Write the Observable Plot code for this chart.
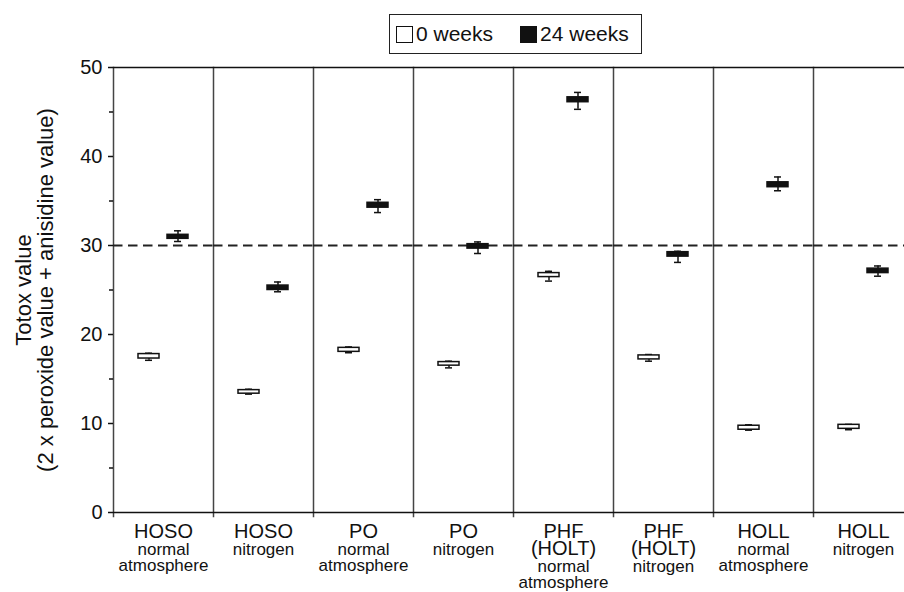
<!DOCTYPE html>
<html>
<head>
<meta charset="utf-8">
<script src="https://cdn.jsdelivr.net/npm/d3@7"></script>
<script src="https://cdn.jsdelivr.net/npm/@observablehq/plot@0.6"></script>
<style>
  body { margin: 0; background: white; font-family: "Liberation Sans", Arial, sans-serif; }
  #wrap { position: relative; width: 904px; height: 592px; overflow: hidden; }
  #head { position: relative; width: 904px; height: 50px; }
  #legend { position: absolute; left: 389px; top: 14px; width: 251px; height: 38px;
    border: 1.5px solid #222; display: flex; align-items: center; font-size: 21px; color: #111;
    background: white; z-index: 2; }
  .sw { display: inline-block; width: 15px; height: 15px; border: 1.5px solid #111; margin-right: 3px; }
  .item { display: flex; align-items: center; }
</style>
</head>
<body>
<div id="wrap">
  <div id="head"><div id="legend"></div></div>
  <div id="chart"></div>
</div>
<script>
// ---- data ----
const products = ["HOSO", "HOSO", "PO", "PO", "PHF\n(HOLT)", "PHF\n(HOLT)", "HOLL", "HOLL"];
const atmospheres = ["normal\natmosphere", "nitrogen", "normal\natmosphere", "nitrogen",
                     "normal\natmosphere", "nitrogen", "normal\natmosphere", "nitrogen"];
const weeks = ["0 weeks", "24 weeks"];

const week0Low  = [17.1, 13.3, 17.95, 16.25, 26.0, 17.0, 9.25, 9.3];
const week0Q1   = [17.3, 13.35, 18.05, 16.5, 26.45, 17.2, 9.3, 9.4];
const week0Q3   = [17.8, 13.75, 18.5, 16.9, 26.9, 17.65, 9.75, 9.85];
const week0High = [17.9, 13.85, 18.6, 17.0, 27.1, 17.75, 9.85, 9.9];

const week24Low  = [30.45, 24.8, 33.7, 29.1, 45.3, 28.1, 36.15, 26.55];
const week24Q1   = [30.75, 25.0, 34.25, 29.65, 46.1, 28.75, 36.55, 26.9];
const week24Q3   = [31.2, 25.5, 34.8, 30.15, 46.65, 29.25, 37.1, 27.4];
const week24High = [31.65, 25.9, 35.15, 30.4, 47.2, 29.35, 37.7, 27.7];

const yTicks = [0, 10, 20, 30, 40, 50];
const yMinorTicks = [5, 15, 25, 35, 45];
const limit = 30;
const yLabel = "Totox value\n(2 x peroxide value + anisidine value)";

// ---- build tables ----
const groups = products.map((p, i) => p + " | " + atmospheres[i]);
const rows = groups.flatMap((g, i) => [
  {group: g, week: weeks[0], lo: week0Low[i], q1: week0Q1[i], q3: week0Q3[i], hi: week0High[i]},
  {group: g, week: weeks[1], lo: week24Low[i], q1: week24Q1[i], q3: week24Q3[i], hi: week24High[i]}
]);
const labels = groups.map((g, i) => ({
  group: g,
  name: products[i],
  nameLines: products[i].split("\n").length,
  cond: atmospheres[i]
}));

// ---- legend ----
const fills = ["white", "#111"];
const legend = document.getElementById("legend");
weeks.forEach((w, i) => {
  const it = document.createElement("span");
  it.className = "item";
  it.style.marginLeft = i === 0 ? "6px" : "27px";
  const sw = document.createElement("span");
  sw.className = "sw";
  sw.style.background = fills[i];
  const tx = document.createElement("span");
  tx.textContent = w;
  it.append(sw, tx);
  legend.append(it);
});

// ---- chart ----
const condStyle = {fx: "group", text: "cond", frameAnchor: "bottom", lineAnchor: "top", fontSize: 17, lineHeight: 0.92, fill: "#111"};
const chart = Plot.plot({
  width: 904,
  height: 542,
  marginTop: 17,
  marginBottom: 80,
  marginLeft: 111,
  marginRight: -11,
  style: {fontFamily: "'Liberation Sans', Arial, sans-serif", fontSize: "20px", color: "#111", background: "white", overflow: "hidden"},
  fx: {domain: groups, padding: 0, axis: null},
  x: {domain: weeks, paddingInner: 0.28, paddingOuter: 0.8067, axis: null},
  y: {domain: [0, 50], axis: null},
  color: {domain: weeks, range: fills},
  marks: [
    Plot.frame({anchor: "left", stroke: "#444", strokeWidth: 1.5, insetBottom: -4}),
    Plot.ruleY([50], {stroke: "#111", strokeWidth: 1.5}),
    Plot.ruleY([0], {stroke: "#111", strokeWidth: 1.5}),
    Plot.ruleY([limit], {stroke: "#222", strokeWidth: 2, strokeDasharray: "9.5,5.5"}),
    Plot.axisY({ticks: yTicks, tickSize: 5, tickPadding: 6, fontSize: 20, label: null, strokeWidth: 1.5}),
    Plot.axisY({ticks: yMinorTicks, tickSize: 4, tickFormat: () => "", label: null, strokeWidth: 1.5}),
    Plot.text(labels, {fx: "group", text: "name", frameAnchor: "bottom", lineAnchor: "top", dy: 14, fontSize: 20, lineHeight: 0.82, fill: "#111"}),
    Plot.text(labels.filter(d => d.nameLines === 1), {...condStyle, dy: 31.8}),
    Plot.text(labels.filter(d => d.nameLines === 2), {...condStyle, dy: 48.5}),
    Plot.text([yLabel], {fx: () => groups[0], text: d => d, frameAnchor: "left", rotate: -90, dx: -79, fontSize: 22, lineHeight: 1.0, textAnchor: "middle", lineAnchor: "middle", fill: "#111"}),
    Plot.ruleX(rows, {fx: "group", x: "week", y1: "lo", y2: "hi", stroke: "#111", strokeWidth: 1.5}),
    Plot.tickY(rows, {fx: "group", x: "week", y: "hi", stroke: "#111", strokeWidth: 1.5, insetLeft: 7, insetRight: 7}),
    Plot.tickY(rows, {fx: "group", x: "week", y: "lo", stroke: "#111", strokeWidth: 1.5, insetLeft: 7, insetRight: 7}),
    Plot.barY(rows, {fx: "group", x: "week", y1: "q1", y2: "q3", fill: "week", stroke: "#111", strokeWidth: 1.5})
  ]
});
document.getElementById("chart").append(chart);
</script>
</body>
</html>
